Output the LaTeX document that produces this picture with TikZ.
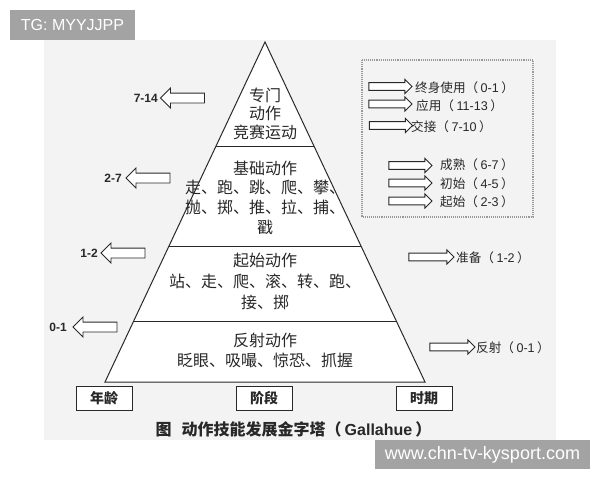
\documentclass[tikz,border=0pt]{standalone}
\usepackage{fontspec}
\setmainfont{Liberation Sans}
\newfontfamily\cjk{Noto Sans CJK SC}
\usetikzlibrary{shapes.arrows,calc}
\definecolor{bgc}{RGB}{243,243,243}
\definecolor{wmc}{RGB}{163,163,163}
\definecolor{ink}{RGB}{40,40,40}
\newcommand\zh[1]{{\cjk #1}}
\newcommand\pr[2]{\zh{#1（}\hspace{2.5pt}#2\hspace{2.5pt}\zh{）}}
\begin{document}
\begin{tikzpicture}[x=1pt,y=-1pt,
 larr/.style={single arrow, draw=ink, fill=white, line width=0.9pt, minimum height=44pt, inner xsep=0pt, inner ysep=4.5pt, single arrow head extend=5pt, shape border rotate=180},
 rarr/.style={single arrow, draw=ink, fill=white, line width=0.9pt, minimum height=43pt, inner xsep=0pt, inner ysep=3.4pt, single arrow head extend=3.2pt},
 numlab/.style={font=\bfseries\fontsize{12}{14}\selectfont, inner sep=0pt, text=ink, anchor=east},
 rlab/.style={font=\fontsize{12.6}{15}\selectfont, inner sep=0pt, anchor=west, text=ink},
 tier/.style={align=center, inner sep=0pt, text=ink},
 lbox/.style={draw=ink, line width=1pt, fill=white, minimum width=56pt, minimum height=24pt, inner sep=0pt, text=ink, font=\cjk\bfseries\fontsize{14}{16}\selectfont},
 wm/.style={fill=wmc, text=white, inner sep=0pt}
]
\useasboundingbox (0,0) rectangle (600,480);
\fill[white] (0,0) rectangle (600,480);
\fill[bgc] (44,40) rectangle (556,440);

% pyramid
\coordinate (apex) at (265,42);
\coordinate (bl) at (105,382);
\coordinate (br) at (425,382);
\filldraw[fill=white, draw=ink, line width=1pt] (apex) -- (bl) -- (br) -- cycle;
\draw[ink, line width=1pt] ($(apex)!0.3088!(bl)$) -- ($(apex)!0.3088!(br)$);
\draw[ink, line width=1pt] ($(apex)!0.6!(bl)$) -- ($(apex)!0.6!(br)$);
\draw[ink, line width=1pt] ($(apex)!0.8206!(bl)$) -- ($(apex)!0.8206!(br)$);

\node[tier, font=\cjk\fontsize{16}{18.5}\selectfont] (t1) at (265,113.5) {专门\\动作\\竞赛运动};
\node[tier, font=\cjk\fontsize{16}{19.7}\selectfont] (t2) at (265,197.5) {基础动作\\走、跑、跳、爬、攀、\\抛、掷、推、拉、捕、\\戳};
\node[tier, font=\cjk\fontsize{16}{21}\selectfont] (t3) at (265,281) {起始动作\\站、走、爬、滚、转、跑、\\接、掷};
\node[tier, font=\cjk\fontsize{16}{20}\selectfont] (t4) at (265,350) {反射动作\\眨眼、吸嘬、惊恐、抓握};

% left arrows (ages)
\node[larr] (a1) at (185,98) {};
\node[numlab] (n1) at (158,98) {7-14};
\node[larr] (a2) at (150.5,178) {};
\node[numlab] (n2) at (122,178) {2-7};
\node[larr] (a3) at (125.5,253) {};
\node[numlab] (n3) at (98,253) {1-2};
\node[larr] (a4) at (97.5,327) {};
\node[numlab] (n4) at (67,327) {0-1};

% right arrows outside box
\node[rarr, minimum height=45pt] (r1) at (429.5,257) {};
\node[rlab] (l1) at (456,257.5) {\pr{准备}{1-2}};
\node[rarr, minimum height=45pt] (r2) at (450.5,347) {};
\node[rlab] (l2) at (476,347.5) {\pr{反射}{0-1}};

% dotted box
\draw[densely dotted, line width=1.1pt, gray!80] (362,60) rectangle (533,217);
\node[rarr] (b1) at (388.5,86.5) {};
\node[rlab] (bl1) at (415,87.5) {\pr{终身使用}{0-1}};
\node[rarr] (b2) at (388.5,104) {};
\node[rlab] (bl2) at (416,105.5) {\pr{应用}{11-13}};
\node[rarr] (b3) at (389,125.5) {};
\node[rlab] (bl3) at (411,126.5) {\pr{交接}{7-10}};
\node[rarr] (b4) at (408.5,165.5) {};
\node[rlab] (bl4) at (440,165) {\pr{成熟}{6-7}};
\node[rarr] (b5) at (408.5,183) {};
\node[rlab] (bl5) at (440,183.5) {\pr{初始}{4-5}};
\node[rarr] (b6) at (408.5,201) {};
\node[rlab] (bl6) at (440,202) {\pr{起始}{2-3}};

% bottom labels
\node[lbox] (k1) at (104,398) {年龄};
\node[lbox] (k2) at (264,398) {阶段};
\node[lbox] (k3) at (424,398) {时期};

% caption
\node[inner sep=0pt, text=ink, font=\cjk\bfseries\fontsize{16}{18}\selectfont] (cap) at (293.5,429) {图\hspace{10pt}动作技能发展金字塔（\hspace{3pt}{\rmfamily\bfseries Gallahue}\hspace{3pt}）};

% watermarks
\node[wm, minimum width=125pt, minimum height=30pt, font=\fontsize{16}{18}\selectfont] (wm1) at (72.5,25) {TG: MYYJJPP};
\node[wm, minimum width=215pt, minimum height=29pt, font=\fontsize{18}{20}\selectfont] (wm2) at (482.5,454.5) {www.chn-tv-kysport.com};
\end{tikzpicture}
\end{document}
